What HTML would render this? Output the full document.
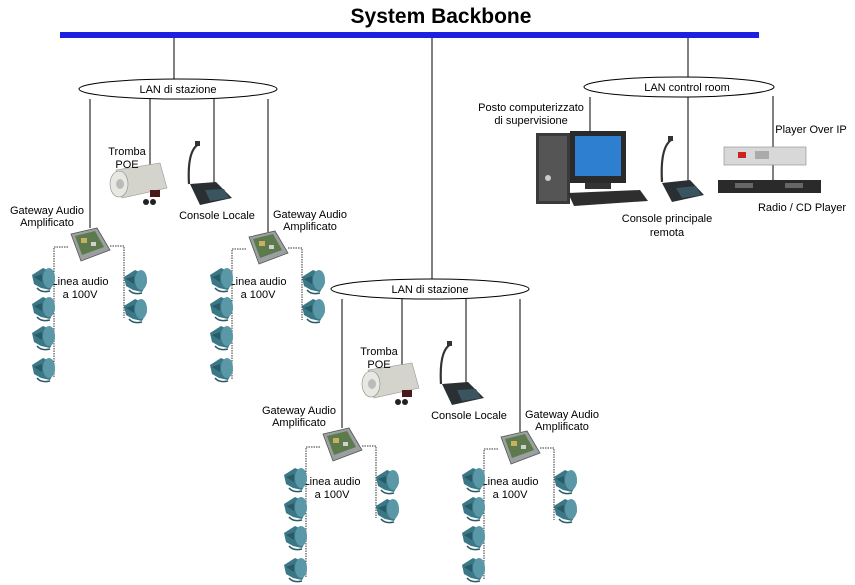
<!DOCTYPE html>
<html><head><meta charset="utf-8"><style>
html,body{margin:0;padding:0;background:#fff;}
svg{display:block;}
text{font-family:"Liberation Sans",Arial,sans-serif;font-size:11px;fill:#000;}
</style></head><body>
<svg width="855" height="585" viewBox="0 0 855 585" xmlns="http://www.w3.org/2000/svg">
<defs>
  <g id="spk">
    <path d="M1 8 L12 1 L21 5 L24 14 L19 23 L10 21 L3 17 Z" fill="#3a7888"/>
    <ellipse cx="18" cy="11" rx="6" ry="10" fill="#5a98a8"/>
    <path d="M3 10 L11 7 L11 15 Z" fill="#2a5a66"/>
    <path d="M6 21 Q10 26 19 24" stroke="#2a5a66" stroke-width="1.5" fill="none"/>
  </g>
  <g id="gw">
    <path d="M4 6 L30 0 L43 22 L14 33 Z" fill="#9aa0a0" stroke="#555" stroke-width="0.8"/>
    <path d="M8 8 L28 3 L37 19 L15 27 Z" fill="#5d7a4d"/>
    <rect x="14" y="10" width="6" height="5" fill="#c9b060"/>
    <rect x="24" y="14" width="5" height="4" fill="#d0d0d0"/>
  </g>
  <g id="station">
    <line x1="90" y1="99" x2="90" y2="228" stroke="#000"/>
    <line x1="150" y1="99" x2="150" y2="165" stroke="#000"/>
    <line x1="214" y1="99" x2="214" y2="185" stroke="#000"/>
    <line x1="268" y1="99" x2="268" y2="232" stroke="#000"/>
    <ellipse cx="178" cy="89" rx="99" ry="10" fill="#fff" stroke="#000"/>
    <text x="178" y="93" text-anchor="middle">LAN di stazione</text>
    <path d="M116 170 L160 163 L167 188 L122 198 Z" fill="#d4d4cc" stroke="#999" stroke-width="0.6"/>
    <ellipse cx="119" cy="184" rx="9" ry="13" fill="#e8e8e2" stroke="#888" stroke-width="0.6"/>
    <ellipse cx="120" cy="184" rx="4" ry="5" fill="#bbb"/>
    <rect x="150" y="190" width="10" height="7" fill="#4a1a1a"/>
    <circle cx="146" cy="202" r="3" fill="#222"/><circle cx="153" cy="202" r="3" fill="#222"/>
    <text x="127" y="155" text-anchor="middle">Tromba</text>
    <text x="127" y="168" text-anchor="middle">POE</text>
    <path d="M199 144 Q187 150 189 184" stroke="#333" stroke-width="2.2" fill="none"/>
    <rect x="195" y="141" width="5" height="5" fill="#333"/>
    <path d="M190 184 L216 182 L232 198 L200 205 Z" fill="#2a2f33"/>
    <path d="M205 190 L224 189 L229 198 L210 201 Z" fill="#3a5560"/>
    <text x="217" y="219" text-anchor="middle">Console  Locale</text>
    <use href="#gw" x="67" y="228"/>
    <use href="#gw" x="245" y="231"/>
    <text x="47" y="214" text-anchor="middle">Gateway Audio</text>
    <text x="47" y="226" text-anchor="middle">Amplificato</text>
    <text x="310" y="218" text-anchor="middle">Gateway Audio</text>
    <text x="310" y="230" text-anchor="middle">Amplificato</text>
    <path d="M68 247 H54 V378" stroke="#333" stroke-dasharray="1.5 1" fill="none"/>
    <path d="M110 246 H124 V318" stroke="#333" stroke-dasharray="1.5 1" fill="none"/>
    <path d="M246 249 H232 V380" stroke="#333" stroke-dasharray="1.5 1" fill="none"/>
    <path d="M288 248 H302 V320" stroke="#333" stroke-dasharray="1.5 1" fill="none"/>
    <text x="80" y="285" text-anchor="middle">Linea audio</text>
    <text x="80" y="298" text-anchor="middle">a 100V</text>
    <text x="258" y="285" text-anchor="middle">Linea audio</text>
    <text x="258" y="298" text-anchor="middle">a 100V</text>
    <use href="#spk" x="31" y="267"/><use href="#spk" x="31" y="296"/><use href="#spk" x="31" y="325"/><use href="#spk" x="31" y="357"/>
    <use href="#spk" x="123" y="269"/><use href="#spk" x="123" y="298"/>
    <use href="#spk" x="209" y="267"/><use href="#spk" x="209" y="296"/><use href="#spk" x="209" y="325"/><use href="#spk" x="209" y="357"/>
    <use href="#spk" x="301" y="269"/><use href="#spk" x="301" y="298"/>
  </g>
</defs>

<text x="441" y="23" text-anchor="middle" style="font-size:21px;font-weight:bold">System   Backbone</text>
<rect x="60" y="32" width="699" height="6" fill="#1f1fe0"/>
<line x1="174" y1="38" x2="174" y2="79" stroke="#000"/>
<line x1="432" y1="38" x2="432" y2="279" stroke="#000"/>
<line x1="688" y1="38" x2="688" y2="77" stroke="#000"/>

<use href="#station"/>
<use href="#station" x="252" y="200"/>

<line x1="590" y1="97" x2="590" y2="134" stroke="#000"/>
<line x1="688" y1="97" x2="688" y2="182" stroke="#000"/>
<line x1="773" y1="96" x2="773" y2="148" stroke="#000"/>
<line x1="773" y1="165" x2="773" y2="181" stroke="#000"/>
<ellipse cx="679" cy="87" rx="95" ry="10" fill="#fff" stroke="#000"/>
<text x="687" y="91" text-anchor="middle">LAN control room</text>
<text x="531" y="111" text-anchor="middle">Posto computerizzato</text>
<text x="531" y="124" text-anchor="middle">di supervisione</text>
<rect x="536" y="133" width="34" height="71" fill="#3a3a3a"/>
<rect x="539" y="136" width="28" height="65" fill="#555"/>
<circle cx="548" cy="178" r="3" fill="#ccc"/>
<rect x="570" y="131" width="56" height="52" fill="#2a2a2a"/>
<rect x="575" y="136" width="46" height="40" fill="#2f7fd0"/>
<rect x="585" y="183" width="26" height="6" fill="#333"/>
<path d="M568 193 L640 190 L648 201 L574 206 Z" fill="#2e2e2e"/>
<path d="M671 140 Q660 148 662 182" stroke="#333" stroke-width="2.2" fill="none"/>
<rect x="668" y="136" width="5" height="5" fill="#333"/>
<path d="M662 183 L690 180 L704 195 L672 202 Z" fill="#2a2f33"/>
<path d="M676 188 L696 186 L701 195 L682 198 Z" fill="#3a5560"/>
<text x="667" y="222" text-anchor="middle">Console principale</text>
<text x="667" y="236" text-anchor="middle">remota</text>
<rect x="724" y="147" width="82" height="18" fill="#d8d8d8" stroke="#888" stroke-width="0.6"/>
<rect x="738" y="152" width="8" height="6" fill="#c22"/>
<rect x="755" y="151" width="14" height="8" fill="#aaa"/>
<rect x="718" y="180" width="103" height="13" fill="#2a2a2a"/>
<rect x="735" y="183" width="18" height="5" fill="#666"/>
<rect x="785" y="183" width="18" height="5" fill="#666"/>
<text x="811" y="133" text-anchor="middle">Player Over IP</text>
<text x="802" y="211" text-anchor="middle">Radio / CD Player</text>
</svg>
</body></html>
